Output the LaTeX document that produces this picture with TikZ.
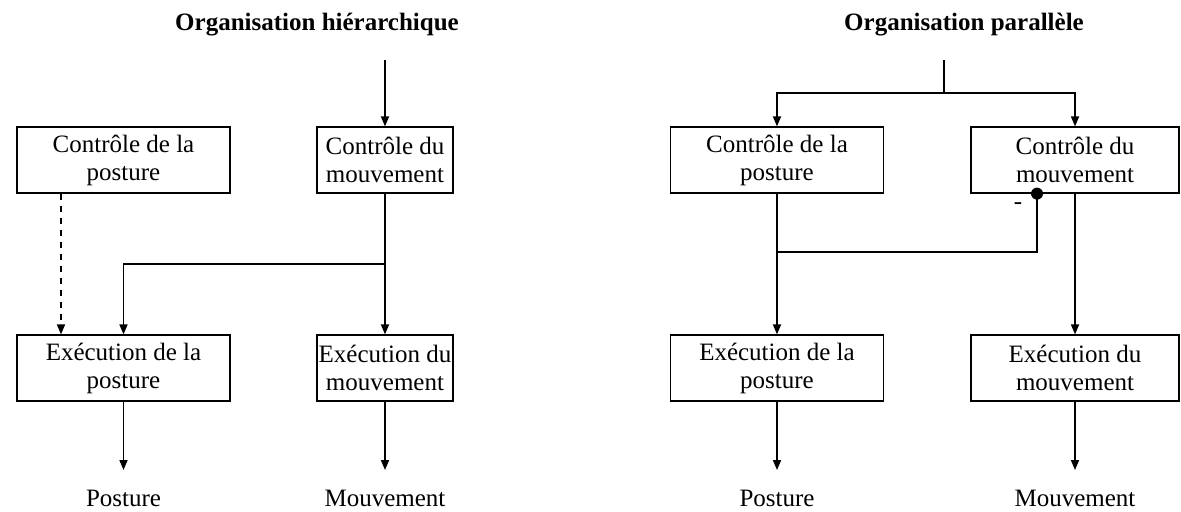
\documentclass[tikz,border=0pt]{standalone}
\usepackage{fontspec}
\setmainfont{Liberation Serif}
\usetikzlibrary{arrows.meta}

\tikzset{
  bloc/.style={draw, semithick, align=center, inner sep=0pt, minimum height=33pt,
    font=\fontsize{12.5}{14}\selectfont},
  large/.style={bloc, minimum width=106.5pt},
  etroit/.style={bloc, minimum width=68pt},
  sortie/.style={font=\fontsize{12.5}{14}\selectfont},
  titre/.style={font=\fontsize{12.5}{14}\selectfont\bfseries},
  fleche/.style={thick, -{Triangle[length=5pt,width=4pt]}},
}

\begin{document}
\begin{tikzpicture}[x=0.5pt, y=-0.5pt]
\useasboundingbox (0,0) rectangle (1181,511);

% organisation hierarchique
\node[titre] (th) at (317,25) {Organisation hiérarchique};
\node[large] (cp1) at (123.5,160) {Contrôle de la\\posture};
\node[etroit] (cm1) at (385,160) {Contrôle du\\mouvement};
\node[large] (ep1) at (123.5,368) {Exécution de la\\posture};
\node[etroit] (em1) at (385,368) {Exécution du\\mouvement};
\node[sortie] (po1) at (123.5,498) {Posture};
\node[sortie] (mo1) at (385,498) {Mouvement};
\coordinate (e1) at (385,60);
\coordinate (j1) at (385,264);
\coordinate (d1) at (61,0);
\coordinate (b1) at (123.5,470);
\coordinate (b2) at (385,470);

\draw[fleche] (e1) -- (cm1);
\draw[fleche] (cm1) -- (em1);
\draw[fleche] (j1) -| (ep1);
\draw[fleche, dashed] (cp1.south -| d1) -- (ep1.north -| d1);
\draw[fleche] (ep1) -- (b1);
\draw[fleche] (em1) -- (b2);

% organisation parallele
\node[titre] (tp) at (964,25) {Organisation parallèle};
\node[large] (cp2) at (777,160) {Contrôle de la\\posture};
\node[large, minimum width=104pt] (cm2) at (1075,160) {Contrôle du\\mouvement};
\node[large] (ep2) at (777,368) {Exécution de la\\posture};
\node[large, minimum width=104pt] (em2) at (1075,368) {Exécution du\\mouvement};
\node[sortie] (po2) at (777,498) {Posture};
\node[sortie] (mo2) at (1075,498) {Mouvement};
\coordinate (e2) at (944,60);
\coordinate (s2) at (944,93);
\coordinate (j2) at (777,252);
\coordinate (k2) at (1037,0);
\coordinate (b3) at (777,470);
\coordinate (b4) at (1075,470);

\draw[thick] (e2) -- (s2);
\draw[fleche] (s2) -| (cp2);
\draw[fleche] (s2) -| (cm2);
\draw[fleche] (cp2) -- (ep2);
\draw[fleche] (cm2) -- (em2);
\draw[thick] (j2) -| (cm2.south -| k2);
\fill (cm2.south -| k2) circle (6);
\node[sortie] (moins) at (1018,206) {-};
\draw[fleche] (ep2) -- (b3);
\draw[fleche] (em2) -- (b4);

\end{tikzpicture}
\end{document}
